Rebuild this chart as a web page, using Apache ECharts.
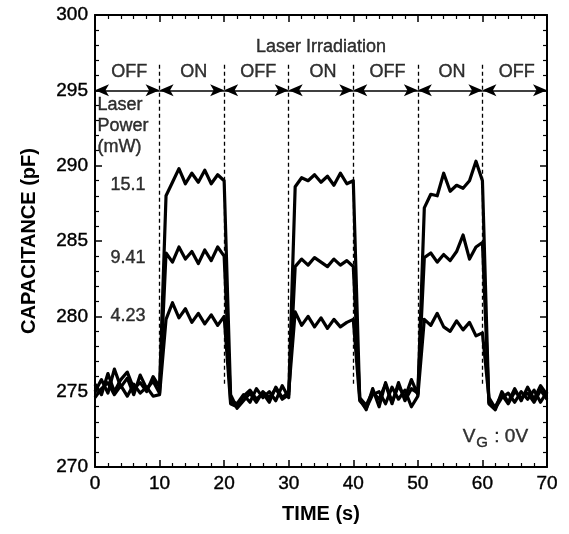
<!DOCTYPE html>
<html>
  <head>
    <meta charset="utf-8" />
    <title>Capacitance vs time</title>
    <script src="https://cdn.jsdelivr.net/npm/echarts@6/dist/echarts.min.js"></script>
  </head>
  <body style="margin: 0; background: #fff">
    <div id="main" style="width: 569px; height: 534px"></div>
  </body>

  <script>
    // time (s)
    var time = [
      0, 1, 2, 3, 4, 5, 6, 7, 8, 9, 10, 11, 12, 13, 14, 15, 16, 17, 18, 19, 20,
      21, 22, 23, 24, 25, 26, 27, 28, 29, 30, 31, 32, 33, 34, 35, 36, 37, 38, 39,
      40, 41, 42, 43, 44, 45, 46, 47, 48, 49, 50, 51, 52, 53, 54, 55, 56, 57, 58,
      59, 60, 61, 62, 63, 64, 65, 66, 67, 68, 69, 70,
    ];
    // capacitance (pF) for each laser power
    var cap15 = [
      275.5, 274.8, 276.2, 275.0, 275.8, 276.3, 275.2, 275.6, 275.0, 276.0, 275.3,
      288.0, 288.9, 289.8, 288.8, 289.5, 288.9, 289.7, 288.8, 289.4, 289.0,
      274.8, 273.9, 274.4, 274.9, 274.3, 275.0, 274.6, 275.2, 274.5, 274.8,
      288.6, 289.2, 289.0, 289.4, 288.9, 289.3, 288.7, 289.5, 288.8, 289.0,
      274.5, 273.8, 275.2, 274.0, 275.6, 274.3, 275.4, 274.6, 275.8, 274.8,
      287.2, 288.1, 288.0, 289.5, 288.3, 288.7, 288.5, 289.0, 290.3, 289.0,
      274.2, 273.8, 275.0, 274.3, 275.2, 274.4, 275.3, 274.5, 275.4, 274.8,
    ];
    var cap941 = [
      275.0, 275.8, 274.9, 276.5, 275.3, 275.9, 274.8, 276.1, 275.2, 275.7, 274.9,
      284.2, 283.6, 284.6, 283.8, 284.3, 283.5, 284.4, 283.7, 284.6, 284.0,
      274.4, 274.2, 274.8, 274.3, 275.2, 274.6, 275.0, 274.4, 275.4, 274.6,
      283.3, 283.8, 283.4, 283.9, 283.6, 283.3, 283.8, 283.4, 283.7, 283.3,
      274.6, 274.1, 275.0, 274.5, 275.5, 274.2, 275.6, 274.4, 275.2, 274.9,
      283.9, 284.2, 283.6, 284.1, 283.7, 284.3, 285.4, 283.8, 284.6, 284.9,
      274.3, 274.0, 274.8, 274.2, 275.0, 274.6, 274.9, 274.3, 275.1, 274.5,
    ];
    var cap423 = [
      274.6, 275.2, 275.6, 274.8, 275.4, 274.7, 275.5, 274.9, 275.3, 274.7, 274.8,
      279.8, 280.9, 279.9, 280.5, 279.6, 280.2, 279.5, 280.1, 279.4, 280.0,
      274.2, 274.0, 274.7, 275.1, 274.5, 274.9, 274.3, 275.3, 274.6, 275.0,
      280.3, 279.4, 280.0, 279.3, 279.9, 279.2, 279.8, 279.3, 279.6, 279.8,
      274.4, 273.9, 274.8, 275.0, 274.2, 275.3, 274.5, 275.1, 274.0, 274.7,
      279.8, 279.4, 280.2, 279.3, 279.0, 279.7, 279.1, 279.6, 278.7, 278.9,
      274.6, 273.9, 274.6, 274.9, 274.3, 275.0, 274.5, 275.1, 274.3, 275.0,
    ];

    // laser on/off switching times and phase labels
    var switchTimes = [10, 20, 30, 40, 50, 60];
    var phaseStart = [0, 10, 20, 30, 40, 50, 60];
    var phaseEnd = [10, 20, 30, 40, 50, 60, 70];
    var phaseLabels = ["OFF", "ON", "OFF", "ON", "OFF", "ON", "OFF"];
    var powerLabels = ["15.1", "9.41", "4.23"];
    var powerLabelY = [288.7, 283.9, 280.0];

    var font = "Liberation Sans, Arial, sans-serif";
    var myChart = echarts.init(document.getElementById("main"));

    function pairs(ys) {
      return time.map(function (t, i) {
        return [t, ys[i]];
      });
    }

    function trace(name, ys) {
      return {
        name: name,
        type: "line",
        data: pairs(ys),
        symbol: "none",
        lineStyle: { color: "#000", width: 3.2, join: "round" },
        z: 3,
      };
    }

    function axis(kind, pos, extra) {
      var a = {
        type: "value",
        position: pos,
        splitLine: { show: false },
        axisLine: { onZero: false, lineStyle: { color: "#000", width: 2 } },
        axisTick: { show: true, inside: true, length: 7, lineStyle: { color: "#000", width: 1.5 } },
        minorTick: { show: true, splitNumber: 5, length: 4, lineStyle: { color: "#000", width: 1.2 } },
        axisLabel: { show: false, inside: false },
      };
      if (kind === "x") {
        a.min = 0;
        a.max = 70;
        a.interval = 10;
      } else {
        a.min = 270;
        a.max = 300;
        a.interval = 5;
      }
      return Object.assign(a, extra || {});
    }

    // text annotations placed in data coordinates
    var textItems = [];
    textItems.push({ value: [35, 297.9], label: { formatter: "Laser Irradiation", fontSize: 18 } });
    phaseLabels.forEach(function (s, i) {
      textItems.push({
        value: [(phaseStart[i] + phaseEnd[i]) / 2 + 0.3, 296.2],
        label: { formatter: s, fontSize: 18 },
      });
    });
    powerLabels.forEach(function (s, i) {
      textItems.push({ value: [5.1, powerLabelY[i]], label: { formatter: s, fontSize: 18 } });
    });
    textItems.push({
      value: [0.4, 292.6],
      label: { formatter: "Laser\nPower\n(mW)", fontSize: 18, align: "left", lineHeight: 21 },
    });
    textItems.push({
      value: [62, 272.0],
      label: {
        formatter: "{v|V}{s|G}{v| : 0V}",
        rich: {
          v: { fontSize: 19, fontFamily: font, color: "#000", textBorderColor: "#000", textBorderWidth: 0.4 },
          s: {
            fontSize: 15,
            fontFamily: font,
            color: "#000",
            textBorderColor: "#000",
            textBorderWidth: 0.4,
            padding: [11, 1, 0, 1],
          },
        },
      },
    });

    var nameStyle = { fontSize: 20, fontWeight: "bold", color: "#000", fontFamily: font };
    var labelStyle = {
      show: true,
      inside: false,
      fontSize: 19,
      color: "#000",
      margin: 7,
      fontFamily: font,
      textBorderColor: "#000",
      textBorderWidth: 0.4,
    };

    option = {
      backgroundColor: "#fff",
      animation: false,
      grid: { left: 95, right: 22, top: 15, bottom: 67 },
      xAxis: [
        axis("x", "bottom", {
          name: "TIME (s)",
          nameLocation: "middle",
          nameGap: 37,
          nameTextStyle: nameStyle,
          axisLabel: labelStyle,
        }),
        axis("x", "top"),
      ],
      yAxis: [
        axis("y", "left", {
          name: "CAPACITANCE (pF)",
          nameLocation: "middle",
          nameGap: 56,
          nameTextStyle: nameStyle,
          axisLabel: labelStyle,
        }),
        axis("y", "right"),
      ],
      series: [
        trace("15.1 mW", cap15),
        trace("9.41 mW", cap941),
        trace("4.23 mW", cap423),
        {
          // dashed switching lines
          type: "line",
          data: [],
          markLine: {
            silent: true,
            symbol: "none",
            label: { show: false },
            lineStyle: { color: "#000", type: [4, 3], width: 1.3 },
            data: switchTimes.map(function (t) {
              return [{ coord: [t, 296.7] }, { coord: [t, 275.5] }];
            }),
          },
        },
        {
          // double-headed arrows for each phase
          type: "line",
          data: [],
          markLine: {
            silent: true,
            symbol: ["arrow", "arrow"],
            symbolSize: [9, 14],
            label: { show: false },
            lineStyle: { color: "#000", type: "solid", width: 1.6 },
            data: phaseStart.map(function (t, i) {
              return [{ coord: [t, 295] }, { coord: [phaseEnd[i], 295] }];
            }),
          },
        },
        {
          type: "scatter",
          symbolSize: 0,
          silent: true,
          data: textItems,
          label: {
            show: true,
            position: "inside",
            color: "#000",
            fontFamily: font,
            textBorderColor: "#000",
            textBorderWidth: 0.4,
          },
          z: 5,
        },
      ],
    };

    myChart.setOption(option);
  </script>
</html>
